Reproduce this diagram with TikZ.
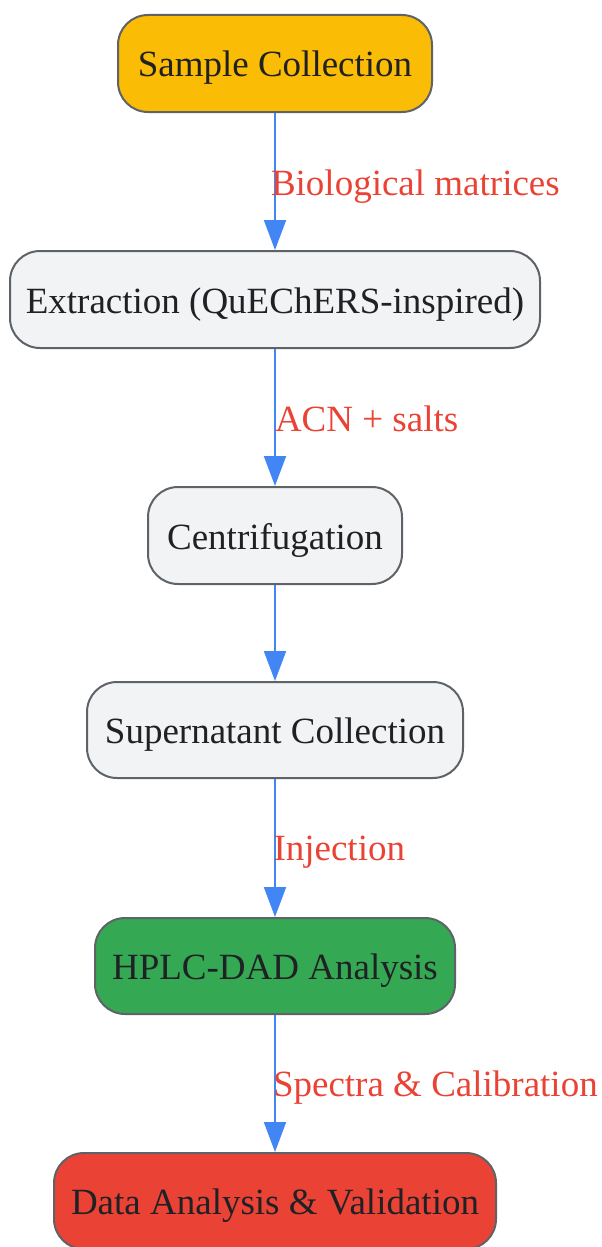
\documentclass[tikz,border=0pt]{standalone}
\usepackage{fontspec}
\setmainfont{Liberation Serif}
\usetikzlibrary{arrows.meta}
\definecolor{cyellow}{HTML}{FBBC05}
\definecolor{cgray}{HTML}{F1F3F4}
\definecolor{cgreen}{HTML}{34A853}
\definecolor{cred}{HTML}{EA4335}
\definecolor{cblue}{HTML}{4285F4}
\definecolor{cborder}{HTML}{5F6368}
\definecolor{ctext}{HTML}{202124}
\begin{document}
\begin{tikzpicture}[x=1pt,y=-1pt,
  box/.style={draw=cborder,line width=2pt,rounded corners=30pt,inner sep=0pt,
    text=ctext,font=\fontsize{37}{44}\selectfont,minimum height=97pt,
    text height=30pt,text depth=3pt},
  flow/.style={draw=cblue,line width=2pt,-{Triangle[length=30pt,width=22pt]}},
  lbl/.style={text=cred,font=\fontsize{37}{44}\selectfont,anchor=west,inner sep=0pt,
    text height=30pt,text depth=3pt}]
\useasboundingbox (0,0) rectangle (602,1247);
\node[box,fill=cyellow,minimum width=314pt] (n1) at (275,63.5) {Sample Collection};
\node[box,fill=cgray,minimum width=530pt] (n2) at (275,299.5) {Extraction (QuEChERS-inspired)};
\node[box,fill=cgray,minimum width=254pt] (n3) at (275,535.5) {Centrifugation};
\node[box,fill=cgray,minimum width=376pt,minimum height=96pt] (n4) at (275,730) {Supernatant Collection};
\node[box,fill=cgreen,minimum width=360pt,minimum height=96pt] (n5) at (275,966) {HPLC-DAD Analysis};
\node[box,fill=cred,minimum width=442pt,minimum height=96pt] (n6) at (275,1201) {Data Analysis \& Validation};
\draw[flow] (n1) -- node[lbl,xshift=-5pt] {Biological matrices} (n2);
\draw[flow] (n2) -- node[lbl,xshift=-1pt] {ACN + salts} (n3);
\draw[flow] (n3) -- (n4);
\draw[flow] (n4) -- node[lbl,xshift=-2.5pt,yshift=1.5pt] {Injection} (n5);
\draw[flow] (n5) -- node[lbl,xshift=-3pt,yshift=0.5pt] {Spectra \& Calibration} (n6);
\end{tikzpicture}
\end{document}
